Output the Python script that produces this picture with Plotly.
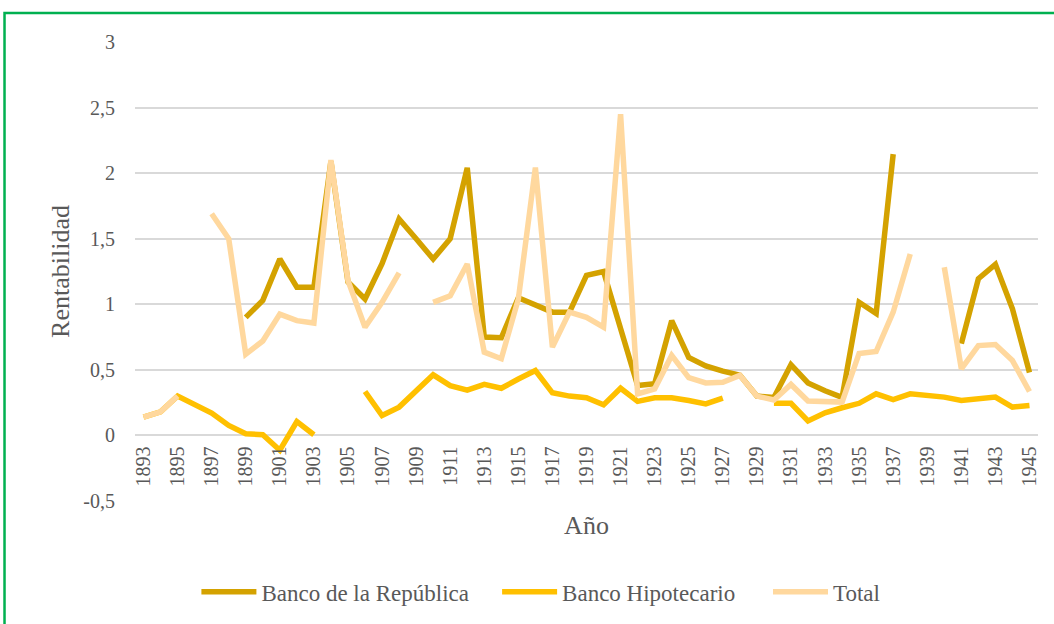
import plotly.graph_objects as go

years = list(range(1893, 1946))

banco_republica = [
    None, None, None, None, None, None,
    0.90, 1.03, 1.345, 1.13, 1.13, 2.09, 1.17, 1.04, 1.31, 1.65,
    1.50, 1.345, 1.50, 2.04, 0.75, 0.745, 1.05, 0.99, 0.94, 0.94,
    1.22, 1.25, 0.81, 0.38, 0.395, 0.875, 0.595, 0.53, 0.49, 0.46,
    0.30, 0.29, 0.54, 0.40, 0.34, 0.29, 1.015, 0.93, 2.145,
    None, None, None,
    0.70, 1.195, 1.305, 0.965, 0.48,
]

banco_hipotecario = [
    0.14, 0.18, 0.30, 0.24, 0.17, 0.076, 0.013, 0.005, -0.113, 0.105,
    0.005, None, None, 0.335, 0.152, 0.216, 0.343, 0.462, 0.38, 0.345,
    0.39, 0.36, 0.43, 0.495, 0.325, 0.30, 0.287, 0.233, 0.36, 0.26,
    0.287, 0.287, 0.266, 0.24, 0.285, None, None, 0.245, 0.245, 0.11,
    0.173, 0.211, 0.245, 0.317, 0.274, 0.317, 0.305, 0.292, 0.266, 0.284,
    0.292, 0.216, 0.228,
]

total = [
    0.14, 0.18, 0.30, None, 1.69, 1.50, 0.62, 0.72, 0.925, 0.875,
    0.857, 2.10, 1.18, 0.825, 1.015, 1.24, None, 1.015, 1.065, 1.307,
    0.635, 0.585, 1.04, 2.043, 0.673, 0.94, 0.90, 0.825, 2.45, 0.317,
    0.355, 0.61, 0.44, 0.40, 0.405, 0.458, 0.30, 0.27, 0.389, 0.262,
    0.254, 0.254, 0.625, 0.64, 0.94, 1.383, None, 1.282, 0.508, 0.685,
    0.693, 0.571, 0.335,
]

tick_years = list(range(1893, 1946, 2))
y_ticks = [-0.5, 0, 0.5, 1, 1.5, 2, 2.5, 3]
y_ticktext = [f"{v:g}".replace(".", ",") for v in y_ticks]

FONT = "Liberation Serif"
GRAY = "#595959"

series = [
    ("Banco de la República", banco_republica, "#D4A200", "legend", 0.068),
    ("Banco Hipotecario", banco_hipotecario, "#FFC000", "legend2", 0.401),
    ("Total", total, "#FFD89E", "legend3", 0.701),
]

fig = go.Figure()
legend_layouts = {}
for name, vals, color, leg, lx in series:
    fig.add_trace(go.Scatter(
        x=years, y=vals, name=name, mode="lines",
        line=dict(color=color, width=5.5),
        connectgaps=False, legend=leg,
    ))
    legend_layouts[leg] = dict(
        orientation="h", x=lx, xanchor="left", y=-0.195, yanchor="middle",
        font=dict(family=FONT, size=23, color=GRAY),
        itemwidth=55, bgcolor="rgba(0,0,0,0)",
    )

fig.update_layout(
    width=1054, height=624,
    margin=dict(l=135, r=16, t=42, b=122),
    paper_bgcolor="white", plot_bgcolor="white",
    font=dict(family=FONT, color=GRAY, size=20),
    showlegend=True,
    shapes=[dict(
        type="rect", xref="paper", yref="paper",
        x0=-0.1445, x1=1.2, y0=-0.5, y1=1.063,
        line=dict(color="#00B050", width=2.5), fillcolor="rgba(0,0,0,0)",
    )],
    **legend_layouts,
)

fig.update_yaxes(
    range=[-0.5, 3], tickvals=y_ticks, ticktext=y_ticktext,
    showgrid=True, gridcolor="#D9D9D9", gridwidth=1.5,
    zeroline=True, zerolinecolor="#D9D9D9", zerolinewidth=1.5,
    showline=False, ticks="", ticklabelstandoff=19,
    tickfont=dict(family=FONT, size=20, color=GRAY),
    title=dict(text="Rentabilidad", font=dict(family=FONT, size=26, color=GRAY), standoff=6),
    domain=[0, 1],
)

fig.update_xaxes(
    range=[1892.5, 1945.5], tickvals=tick_years, ticktext=[str(y) for y in tick_years],
    tickangle=-90, showgrid=False, zeroline=False, showline=False, ticks="",
    anchor="free", position=1/7, ticklabelstandoff=6,
    tickfont=dict(family=FONT, size=20, color=GRAY),
    title=dict(text="Año", font=dict(family=FONT, size=26, color=GRAY), standoff=30),
)

fig.write_html(
    "out.html",
    config={"displayModeBar": False},
    post_script="document.body.style.margin='0px';",
)
